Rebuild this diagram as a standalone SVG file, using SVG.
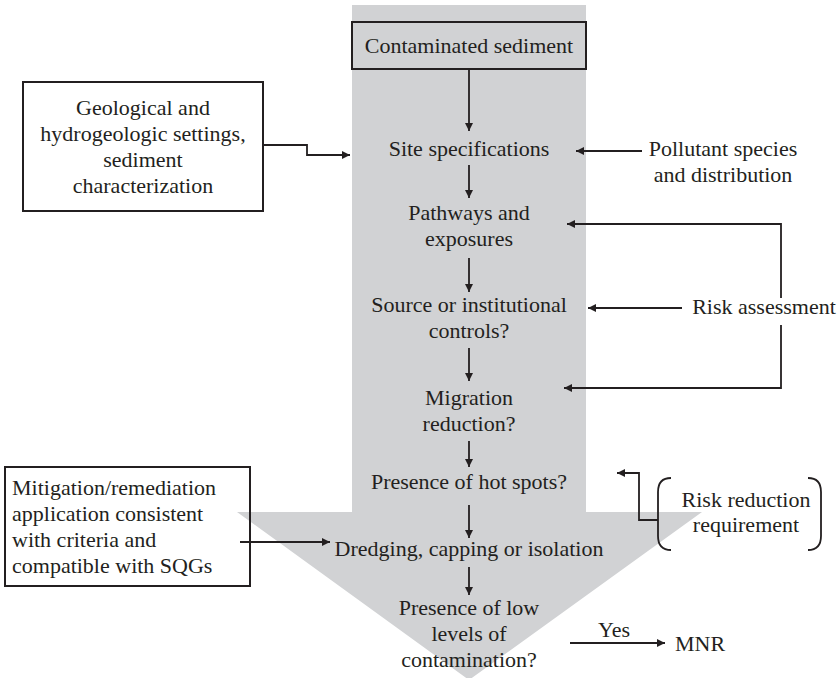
<svg xmlns="http://www.w3.org/2000/svg" width="838" height="678" viewBox="0 0 838 678">
  <defs>
    <marker id="ah" viewBox="0 0 10 10" refX="10" refY="5" markerWidth="10" markerHeight="8" markerUnits="userSpaceOnUse" orient="auto">
      <path d="M0,0 L10,5 L0,10 z" fill="#231f20"/>
    </marker>
    <style>
      text { font-family: "Liberation Serif", "Times New Roman", serif; font-size: 22px; fill: #231f20; }
      .c { text-anchor: middle; }
      .box { fill: none; stroke: #231f20; stroke-width: 2; }
      .ln { fill: none; stroke: #231f20; stroke-width: 1.8; }
      .arr { fill: none; stroke: #231f20; stroke-width: 1.8; marker-end: url(#ah); }
    </style>
  </defs>

  <!-- large grey process arrow -->
  <path id="flow-arrow" d="M352,5 L586,5 L586,512 L702,512 L469,680 L237,512 L352,512 z" fill="#d1d2d4"/>

  <g id="contaminated-sediment">
    <rect x="352" y="22" width="234" height="47" fill="#d1d2d4" stroke="#231f20" stroke-width="2"/>
    <text class="c" x="469" y="53">Contaminated sediment</text>
  </g>

  <g id="geological-settings">
    <rect class="box" x="23" y="82" width="240" height="129"/>
    <text class="c" x="143" y="115">Geological and</text>
    <text class="c" x="143" y="141">hydrogeologic settings,</text>
    <text class="c" x="143" y="167">sediment</text>
    <text class="c" x="143" y="193">characterization</text>
  </g>

  <g id="site-specifications">
    <text class="c" x="469" y="156">Site specifications</text>
  </g>

  <g id="pollutant-species">
    <text class="c" x="723" y="156">Pollutant species</text>
    <text class="c" x="723" y="182">and distribution</text>
  </g>

  <g id="pathways">
    <text class="c" x="469" y="220">Pathways and</text>
    <text class="c" x="469" y="246">exposures</text>
  </g>

  <g id="source-controls">
    <text class="c" x="469" y="312">Source or institutional</text>
    <text class="c" x="469" y="338">controls?</text>
  </g>

  <g id="risk-assessment">
    <text class="c" x="764" y="314">Risk assessment</text>
  </g>

  <g id="migration-reduction">
    <text class="c" x="469" y="405">Migration</text>
    <text class="c" x="469" y="431">reduction?</text>
  </g>

  <g id="hot-spots">
    <text class="c" x="469" y="489">Presence of hot spots?</text>
  </g>

  <g id="risk-reduction">
    <path class="ln" d="M671,478 Q658,478 658,492 L658,536 Q658,550 671,550"/>
    <path class="ln" d="M808,478 Q821,478 821,492 L821,536 Q821,550 808,550"/>
    <text class="c" x="746" y="507">Risk reduction</text>
    <text class="c" x="746" y="532">requirement</text>
  </g>

  <g id="mitigation">
    <rect class="box" x="5" y="467" width="245" height="119"/>
    <text x="12" y="495">Mitigation/remediation</text>
    <text x="12" y="521">application consistent</text>
    <text x="12" y="547">with criteria and</text>
    <text x="12" y="573">compatible with SQGs</text>
  </g>

  <g id="dredging">
    <text class="c" x="469" y="556">Dredging, capping or isolation</text>
  </g>

  <g id="low-levels">
    <text class="c" x="469" y="615">Presence of low</text>
    <text class="c" x="469" y="641">levels of</text>
    <text class="c" x="469" y="667">contamination?</text>
  </g>

  <g id="mnr">
    <text x="675" y="651">MNR</text>
  </g>

  <g id="connectors">
    <line class="arr" x1="469" y1="69" x2="469" y2="131"/>
    <line class="arr" x1="469" y1="165" x2="469" y2="198"/>
    <line class="arr" x1="469" y1="258" x2="469" y2="292"/>
    <line class="arr" x1="469" y1="348" x2="469" y2="381"/>
    <line class="arr" x1="469" y1="441" x2="469" y2="467"/>
    <line class="arr" x1="469" y1="505" x2="469" y2="538"/>
    <line class="arr" x1="469" y1="567" x2="469" y2="595"/>

    <polyline class="arr" points="263,145 307,145 307,155 350,155"/>
    <line class="arr" x1="642" y1="151" x2="576" y2="151"/>
    <polyline class="arr" points="781,298 781,224 567,224"/>
    <line class="arr" x1="682" y1="308" x2="588" y2="308"/>
    <polyline class="arr" points="781,325 781,388 564,388"/>
    <polyline class="arr" points="658,520 639,520 639,473 617,473"/>
    <line class="arr" x1="240" y1="542" x2="330" y2="542"/>
    <line class="arr" x1="570" y1="643" x2="665" y2="643"/>
    <text class="c" x="614" y="637">Yes</text>
  </g>
</svg>
